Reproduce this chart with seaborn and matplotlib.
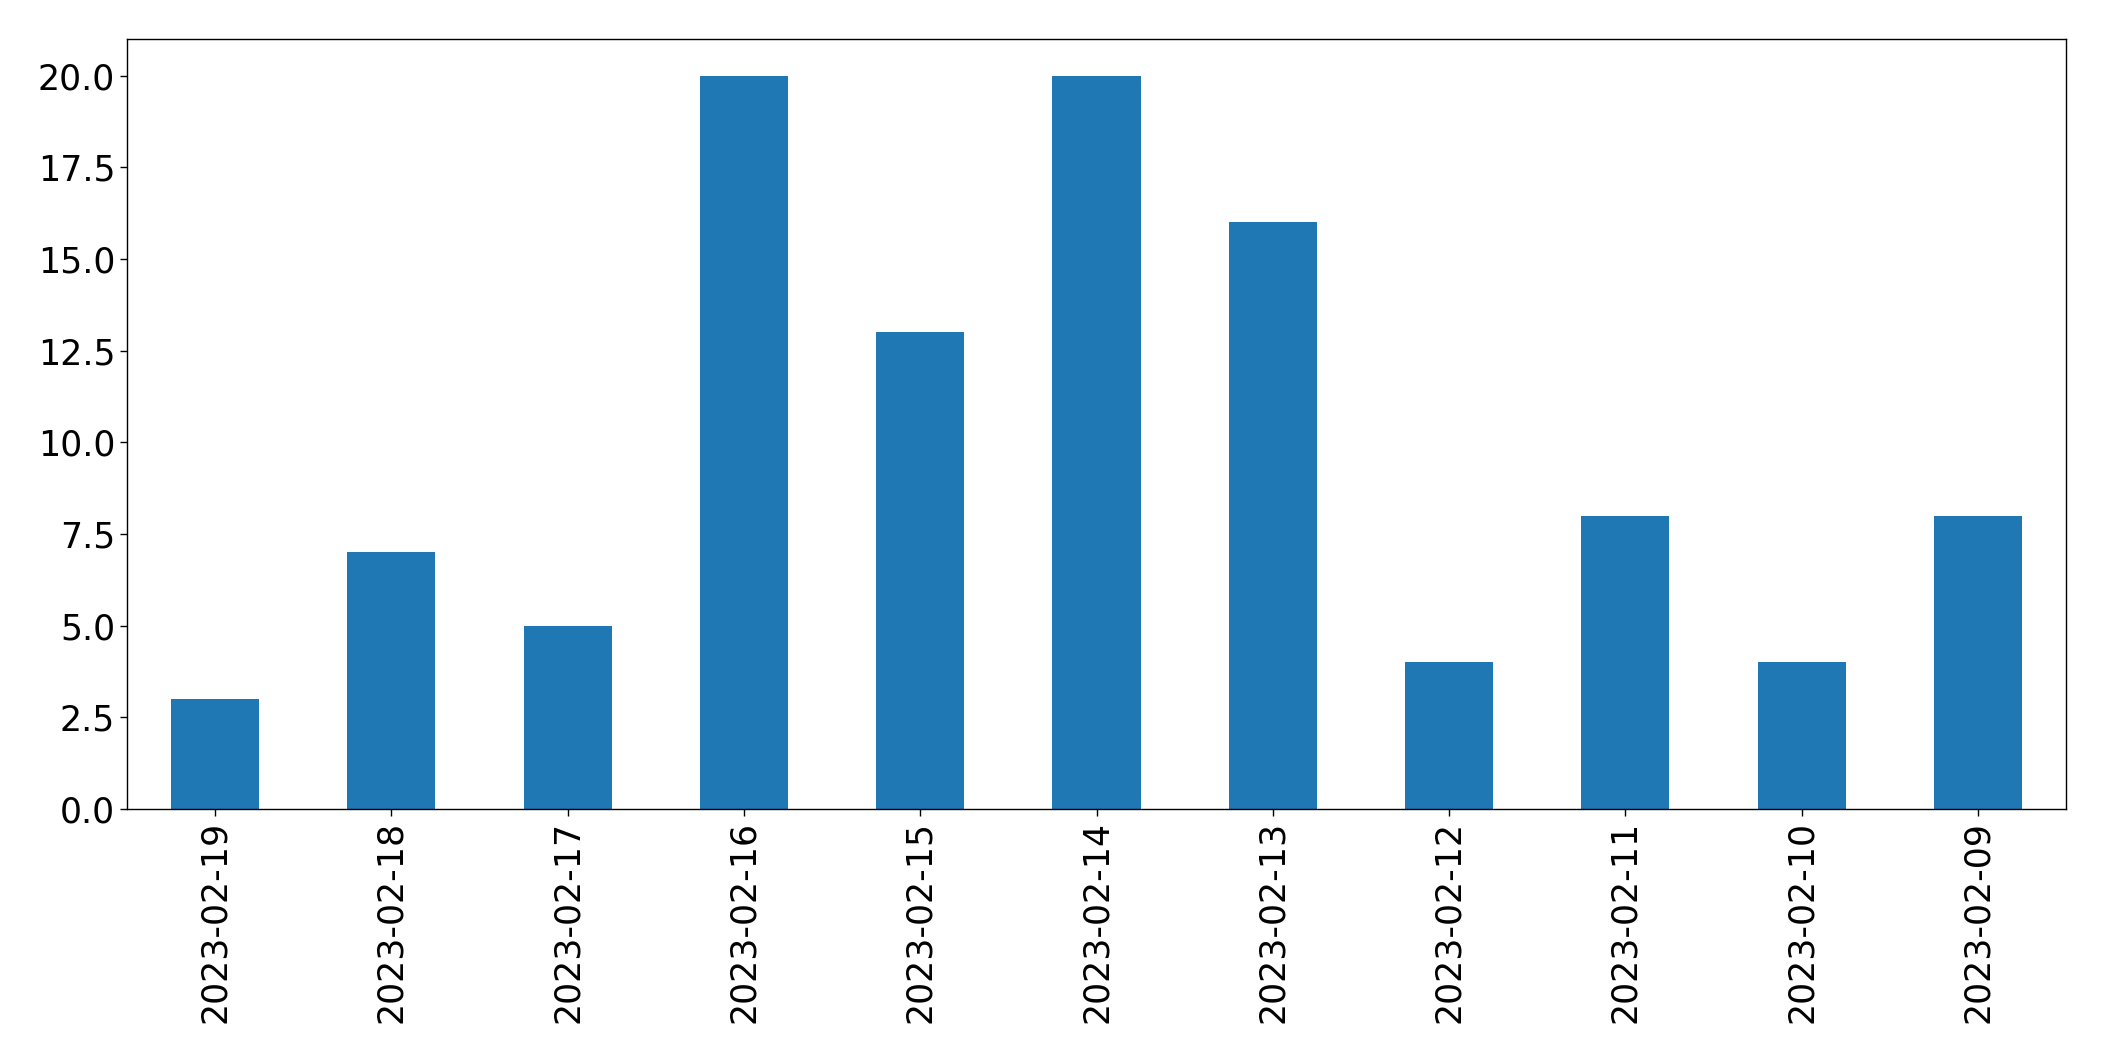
import seaborn as sns
import matplotlib
matplotlib.use("Agg")
import matplotlib.pyplot as plt
import pandas as pd

dates = ['2023-02-19', '2023-02-18', '2023-02-17', '2023-02-16', '2023-02-15',
         '2023-02-14', '2023-02-13', '2023-02-12', '2023-02-11', '2023-02-10',
         '2023-02-09']
counts = [3, 7, 5, 20, 13, 20, 16, 4, 8, 4, 8]

df = pd.DataFrame({'date': dates, 'count': counts})

sns.set_style("ticks")
plt.rcParams['font.family'] = ['DejaVu Sans']
plt.rcParams['text.color'] = 'black'
plt.rcParams['xtick.color'] = 'black'
plt.rcParams['ytick.color'] = 'black'

fig, ax = plt.subplots(figsize=(21.04, 10.61), dpi=100)
fig.subplots_adjust(left=127 / 2104, right=2066 / 2104, top=1 - 39 / 1061, bottom=1 - 809 / 1061)

sns.barplot(data=df, x='date', y='count', order=dates, color='#1f77b4',
            saturation=1, width=0.5, linewidth=0, ax=ax)

ax.set_xlim(-0.5, len(dates) - 0.5)
ax.set_ylim(0, 21)
ax.set_yticks([0, 2.5, 5, 7.5, 10, 12.5, 15, 17.5, 20])
ax.set_yticklabels(['0.0', '2.5', '5.0', '7.5', '10.0', '12.5', '15.0', '17.5', '20.0'])
ax.set_xlabel('')
ax.set_ylabel('')
ax.tick_params(axis='both', labelsize=25, length=5, width=1, color='black', labelcolor='black')
plt.xticks(rotation=90)
for s in ax.spines.values():
    s.set_visible(True)
    s.set_color('black')
    s.set_linewidth(1)

fig.savefig('out.png', dpi=100)
